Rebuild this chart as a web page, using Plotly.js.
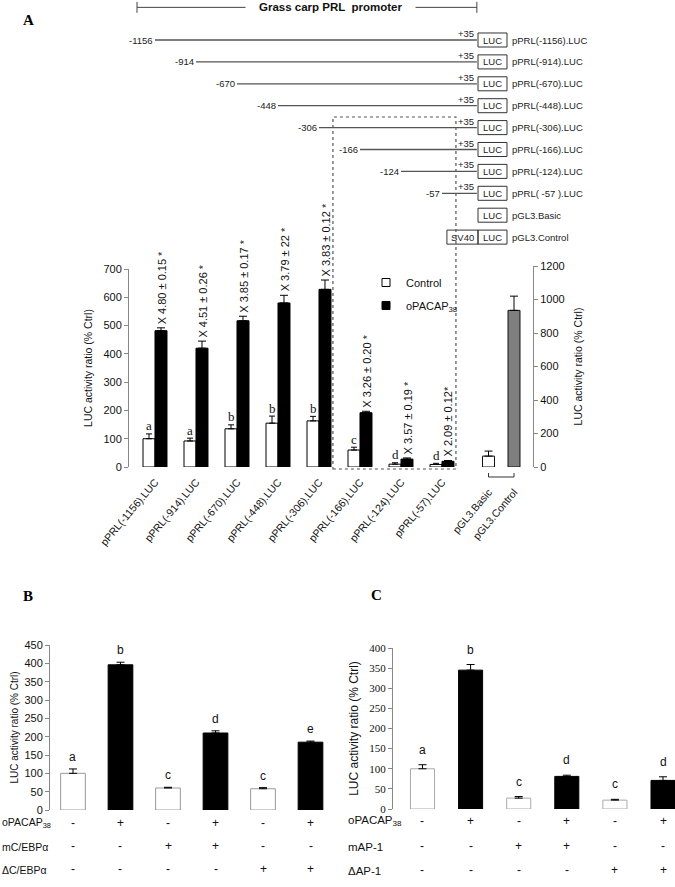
<!DOCTYPE html>
<html><head><meta charset="utf-8">
<script src="https://cdn.plot.ly/plotly-3.0.1.min.js"></script>
<style>html,body{margin:0;padding:0;background:#fff;}#chart{width:675px;height:887px;}</style>
</head><body><div id="chart"></div>
<script>
// ---------- Panel A data ----------
const promoterLabels = ["pPRL(-1156).LUC","pPRL(-914).LUC","pPRL(-670).LUC","pPRL(-448).LUC","pPRL(-306).LUC","pPRL(-166).LUC","pPRL(-124).LUC","pPRL(-57).LUC"];
const controlValues = [100, 92, 135, 155, 163, 60, 10, 9];
const controlErrors = [17, 10, 14, 25, 16, 10, 5, 4];
const pacapValues = [482, 420, 517, 580, 628, 192, 28, 20];
const pacapErrors = [10, 25, 16, 27, 33, 5, 4, 3];
const controlLetters = ["a","a","b","b","b","c","d","d"];
const foldLabels = ["X 4.80 ± 0.15 *","X 4.51 ± 0.26 *","X 3.85 ± 0.17 *","X 3.79 ± 22 *","X 3.83 ± 0.12 *","X 3.26 ± 0.20 *","X 3.57 ± 0.19 *","X 2.09 ± 0.12*"];
const vectorLabels = ["pGL3.Basic","pGL3.Control"];
const vectorValues = [65, 935];
const vectorErrors = [30, 85];
// construct diagram
const constructNames = ["pPRL(-1156).LUC","pPRL(-914).LUC","pPRL(-670).LUC","pPRL(-448).LUC","pPRL(-306).LUC","pPRL(-166).LUC","pPRL(-124).LUC","pPRL( -57 ).LUC","pGL3.Basic","pGL3.Control"];
const constructStarts = ["-1156","-914","-670","-448","-306","-166","-124","-57"];
const constructEnd = "+35";
// ---------- Panel B data ----------
const bValues = [100, 396, 60, 210, 58, 185];
const bErrors = [12, 7, 2, 6, 3, 3];
const bLetters = ["a","b","c","d","c","e"];
const bRowLabels = ["oPACAP<sub>38</sub>","mC/EBPα","ΔC/EBPα"];
const bPacap = ["-","+","-","+","-","+"];
const bMutant = ["-","-","+","+","-","-"];
const bDelta = ["-","-","-","-","+","+"];
// ---------- Panel C data ----------
const cValues = [100, 345, 27, 81, 22, 71];
const cErrors = [10, 14, 4, 3, 2, 9];
const cLetters = ["a","b","c","d","c","d"];
const cRowLabels = ["oPACAP<sub>38</sub>","mAP-1","ΔAP-1"];
const cPacap = ["-","+","-","+","-","+"];
const cMutant = ["-","-","+","+","-","-"];
const cDelta = ["-","-","-","-","+","+"];

// ---------- helpers ----------
const W = 675, H = 887;
const fx = p => p / W;
const fy = p => 1 - p / H;
const SANS = 'Liberation Sans, Arial, sans-serif';
const SERIF = 'Liberation Serif, Times New Roman, serif';
const zeros = n => new Array(n).fill(0);
const errBar = (arr, w) => ({type:'data', symmetric:false, array:arr, arrayminus:zeros(arr.length), color:'#000', thickness:1, width:w});

const idxA = promoterLabels.map((_, i) => i);
const idx6 = bValues.map((_, i) => i);

const traces = [];
// Panel A bars
traces.push({type:'bar', name:'Control', x:idxA, y:controlValues, xaxis:'x', yaxis:'y', showlegend:false,
  marker:{color:'#ffffff', line:{color:'#000', width:1}}, error_y:errBar(controlErrors,3), hoverinfo:'skip'});
traces.push({type:'bar', name:'oPACAP<sub>38</sub>', x:idxA, y:pacapValues, xaxis:'x', yaxis:'y', showlegend:false,
  marker:{color:'#000000', line:{color:'#000', width:1}}, error_y:errBar(pacapErrors,4), hoverinfo:'skip'});
// legend entries (small square keys)
traces.push({type:'scatter', mode:'markers', name:'Control', x:[null], y:[null], xaxis:'x', yaxis:'y', legendgroup:'c',
  marker:{symbol:'square', size:8, color:'#ffffff', line:{color:'#000', width:1}}, hoverinfo:'skip'});
traces.push({type:'scatter', mode:'markers', name:'oPACAP<sub>38</sub>', x:[null], y:[null], xaxis:'x', yaxis:'y', legendgroup:'p',
  marker:{symbol:'square', size:8, color:'#000000', line:{color:'#000', width:1}}, hoverinfo:'skip'});
traces.push({type:'bar', x:[0,1], y:vectorValues, xaxis:'x2', yaxis:'y2', width:0.47, showlegend:false,
  marker:{color:['#ffffff','#7f7f7f'], line:{color:'#111', width:1}}, error_y:errBar(vectorErrors,4), hoverinfo:'skip'});
// Panel B bars
traces.push({type:'bar', x:idx6, y:bValues, xaxis:'x3', yaxis:'y3', width:0.52, showlegend:false,
  marker:{color:bPacap.map(s => s === '+' ? '#000' : '#fff'), line:{color:bPacap.map(s => s === '+' ? '#000' : '#999'), width:1}},
  error_y:errBar(bErrors,4), hoverinfo:'skip'});
// Panel C bars
traces.push({type:'bar', x:idx6, y:cValues, xaxis:'x4', yaxis:'y4', width:0.5, showlegend:false,
  marker:{color:cPacap.map(s => s === '+' ? '#000' : '#fff'), line:{color:cPacap.map(s => s === '+' ? '#000' : '#aaa'), width:1}},
  error_y:errBar(cErrors,4), hoverinfo:'skip'});

// Construct diagram lines (diagram axis x5 shares the bar scale; rows on y5)
const endPos = 7.85, boxL = 7.878, boxR = 8.585, svL = 7.12;
const lx = [], ly = [];
constructStarts.forEach((_, i) => { lx.push(i, endPos, null); ly.push(i, i, null); });
traces.push({type:'scatter', mode:'lines', x:lx, y:ly, xaxis:'x5', yaxis:'y5', showlegend:false,
  line:{color:'#555', width:1.3}, hoverinfo:'skip'});

const shapes = [];
const annotations = [];

// LUC boxes
constructNames.forEach((name, r) => {
  shapes.push({type:'rect', xref:'x5', yref:'y5', x0:boxL, x1:boxR, y0:r-0.32, y1:r+0.32, line:{color:'#333', width:1}});
  annotations.push({xref:'x5', yref:'y5', x:(boxL+boxR)/2, y:r, text:'LUC', showarrow:false, font:{family:SANS, size:9.5, color:'#222'}});
  annotations.push({xref:'x5', yref:'y5', x:boxR, y:r, xanchor:'left', xshift:3, text:name, showarrow:false, font:{family:SANS, size:9.5, color:'#222'}});
});
// SV40 box
const svRow = constructNames.length - 1;
shapes.push({type:'rect', xref:'x5', yref:'y5', x0:svL, x1:boxL, y0:svRow-0.32, y1:svRow+0.32, line:{color:'#333', width:1}});
annotations.push({xref:'x5', yref:'y5', x:(svL+boxL)/2, y:svRow, text:'SV40', showarrow:false, font:{family:SANS, size:9.5, color:'#222'}});
// start labels and +35
constructStarts.forEach((s, i) => {
  annotations.push({xref:'x5', yref:'y5', x:i, y:i, xanchor:'right', xshift:0, text:s, showarrow:false, font:{family:SANS, size:9.5, color:'#222'}});
  annotations.push({xref:'x5', yref:'y5', x:endPos, y:i, xanchor:'right', yanchor:'bottom', xshift:-1, yshift:-1, text:constructEnd, showarrow:false, font:{family:SANS, size:9.5, color:'#222'}});
});
// top bracket
const brY = -1.49, brL = -0.439;
shapes.push({type:'line', xref:'x5', yref:'y5', x0:brL, x1:endPos, y0:brY, y1:brY, line:{color:'#444', width:1}});
shapes.push({type:'line', xref:'x5', yref:'y5', x0:brL, x1:brL, y0:brY-0.25, y1:brY+0.25, line:{color:'#444', width:1}});
shapes.push({type:'line', xref:'x5', yref:'y5', x0:endPos, x1:endPos, y0:brY-0.25, y1:brY+0.25, line:{color:'#444', width:1}});
annotations.push({xref:'x5', yref:'y5', x:4.29, y:brY, text:'<b>Grass carp PRL  promoter</b>', showarrow:false, bgcolor:'#ffffff', borderpad:13,
  font:{family:SANS, size:11.5, color:'#111'}});
// dotted box
shapes.push({type:'rect', xref:'x5', yref:'paper', x0:4.34, x1:7.34, y0:fy(469), y1:fy(117), line:{color:'#555', width:1.2, dash:'dot'}});
// bracket under pGL3 bars
const bY0 = fy(477), bY1 = fy(473);
shapes.push({type:'path', xref:'x2', yref:'paper', path:`M0,${bY1} L0,${bY0} L1,${bY0} L1,${bY1}`, line:{color:'#333', width:1}});

// Panel A letters and fold labels
controlLetters.forEach((l, i) => {
  annotations.push({xref:'x', yref:'y', x:i-0.146, y:controlValues[i]+controlErrors[i], text:l, showarrow:false, yanchor:'middle', yshift:8,
    font:{family:SERIF, size:13, color:'#111'}});
});
foldLabels.forEach((t, i) => {
  annotations.push({xref:'x', yref:'y', x:i+0.146, y:pacapValues[i]+pacapErrors[i], text:t, showarrow:false, textangle:-90, yanchor:'bottom', yshift:2, xshift:1,
    font:{family:SANS, size:11, color:'#111'}});
});

// Panel B letters and table
bLetters.forEach((l, i) => {
  annotations.push({xref:'x3', yref:'y3', x:i, y:bValues[i]+bErrors[i], text:l, showarrow:false, yanchor:'middle', yshift:12,
    font:{family:SANS, size:12, color:'#111'}});
});
const bRows = [bPacap, bMutant, bDelta];
const bRowY = [831, 854, 877];
bRows.forEach((row, r) => {
  annotations.push({xref:'paper', yref:'paper', x:fx(1), y:fy(bRowY[r]), xanchor:'left', borderpad:0, text:bRowLabels[r], showarrow:false, font:{family:SANS, size:10.5, color:'#111'}});
  row.forEach((s, i) => annotations.push({xref:'x3', yref:'paper', x:i, y:fy(bRowY[r]), borderpad:0, text:s, showarrow:false, font:{family:SANS, size:12, color:'#111'}}));
});
// Panel C letters and table
cLetters.forEach((l, i) => {
  annotations.push({xref:'x4', yref:'y4', x:i, y:cValues[i]+cErrors[i], text:l, showarrow:false, yanchor:'middle', yshift:15,
    font:{family:SANS, size:12, color:'#111'}});
});
const cRows = [cPacap, cMutant, cDelta];
const cRowY = [829, 854, 878];
cRows.forEach((row, r) => {
  annotations.push({xref:'paper', yref:'paper', x:fx(347), y:fy(cRowY[r]), xanchor:'left', borderpad:0, text:cRowLabels[r], showarrow:false, font:{family:SANS, size:11.5, color:'#111'}});
  row.forEach((s, i) => annotations.push({xref:'x4', yref:'paper', x:i, y:fy(cRowY[r]), borderpad:0, text:s, showarrow:false, font:{family:SANS, size:12, color:'#111'}}));
});

// panel letters
annotations.push({xref:'paper', yref:'paper', x:fx(21), y:fy(10), text:'<b>A</b>', showarrow:false, font:{family:SERIF, size:15, color:'#000'}});
annotations.push({xref:'paper', yref:'paper', x:fx(21), y:fy(606), text:'<b>B</b>', showarrow:false, font:{family:SERIF, size:15, color:'#000'}});
annotations.push({xref:'paper', yref:'paper', x:fx(376), y:fy(605), text:'<b>C</b>', showarrow:false, font:{family:SERIF, size:15, color:'#000'}});

const yTitle = 'LUC activity ratio (% Ctrl)';
const baseY = {showgrid:false, zeroline:false, showline:true, linecolor:'#888', linewidth:1, ticks:'outside', ticklen:4, tickcolor:'#888'};
const hidden = {visible:false, showgrid:false, zeroline:false};

const layout = {
  width:W, height:H, margin:{l:0, r:0, t:0, b:0}, paper_bgcolor:'#fff', plot_bgcolor:'rgba(0,0,0,0)',
  barmode:'group', bargap:0.415, bargroupgap:0,
  font:{family:SANS, color:'#111'},
  showlegend:true,
  legend:{x:fx(366), y:fy(268), xanchor:'left', yanchor:'top', font:{family:SANS, size:11, color:'#111'}, bgcolor:'rgba(0,0,0,0)',
    traceorder:'grouped', tracegroupgap:4},
  xaxis:{domain:[fx(129), fx(462)], range:[-0.634, 7.488], type:'linear', anchor:'y', showgrid:false, zeroline:false, showline:false, ticks:'',
    tickvals:idxA, ticktext:promoterLabels, tickangle:-50, ticklabelstandoff:6, tickfont:{family:SANS, size:10.5, color:'#111'}},
  yaxis:Object.assign({}, baseY, {domain:[fy(467), fy(269)], range:[0,700], dtick:100, anchor:'x', tickfont:{family:SANS, size:11, color:'#111'},
    title:{text:yTitle, font:{family:SANS, size:10.5, color:'#111'}, standoff:8}}),
  xaxis2:{domain:[fx(468), fx(533)], range:[-0.804, 1.745], type:'linear', anchor:'y2', showgrid:false, zeroline:false, showline:false, ticks:'',
    tickvals:[0,1], ticktext:vectorLabels, tickangle:-50, ticklabelstandoff:16, tickfont:{family:SANS, size:10.5, color:'#111'}},
  yaxis2:Object.assign({}, baseY, {domain:[fy(467), fy(266)], range:[0,1200], dtick:200, anchor:'x2', side:'right', tickfont:{family:SANS, size:11, color:'#111'},
    title:{text:yTitle, font:{family:SANS, size:10.5, color:'#111'}, standoff:10}}),
  xaxis3:Object.assign({}, hidden, {domain:[fx(50), fx(340)], range:[-0.484, 5.621], anchor:'y3'}),
  yaxis3:Object.assign({}, baseY, {domain:[fy(810), fy(645)], range:[0,450], dtick:50, anchor:'x3', tickfont:{family:SANS, size:11, color:'#111'},
    title:{text:yTitle, font:{family:SANS, size:10, color:'#111'}, standoff:3}}),
  xaxis4:Object.assign({}, hidden, {domain:[fx(393), 1], range:[-0.613, 5.249], anchor:'y4'}),
  yaxis4:Object.assign({}, baseY, {domain:[fy(809), fy(648)], range:[0,400], dtick:50, anchor:'x4', tickfont:{family:SERIF, size:11, color:'#111'},
    title:{text:yTitle, font:{family:SANS, size:12, color:'#111'}, standoff:8}}),
  xaxis5:Object.assign({}, hidden, {domain:[0,1], range:[-155/41, (675-155)/41], anchor:'y5'}),
  yaxis5:Object.assign({}, hidden, {domain:[fy(250), 1], range:[(250-40)/21.9, -40/21.9], anchor:'x5'}),
  shapes:shapes,
  annotations:annotations
};

Plotly.newPlot('chart', traces, layout, {staticPlot:true, displayModeBar:false});
</script></body></html>
